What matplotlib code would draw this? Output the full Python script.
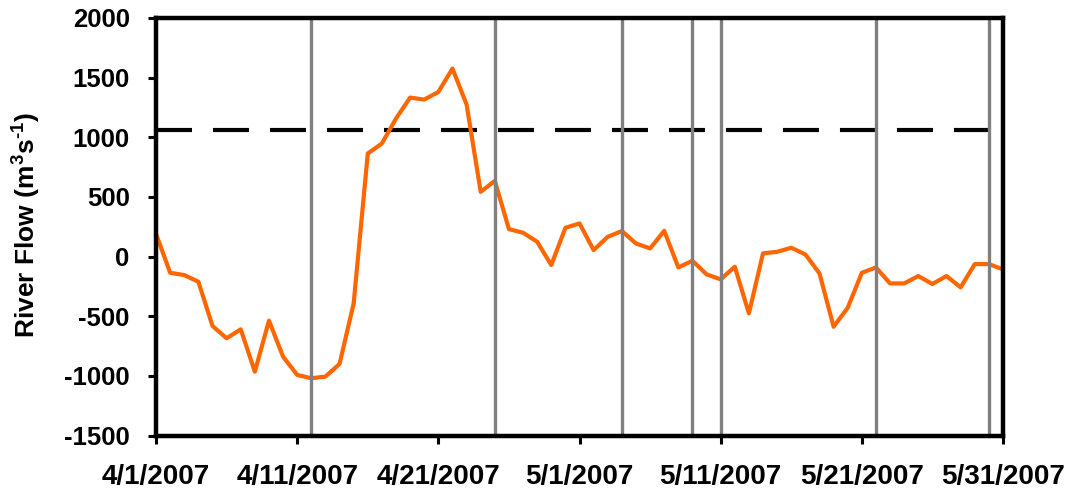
import numpy as np
import pandas as pd
import matplotlib
matplotlib.use("Agg")
import matplotlib.pyplot as plt

plt.rcParams['font.family'] = ['Liberation Sans', 'DejaVu Sans']
plt.rcParams['font.weight'] = 'bold'
plt.rcParams['axes.unicode_minus'] = False
plt.rcParams['mathtext.fontset'] = 'custom'
plt.rcParams['mathtext.rm'] = 'Liberation Sans:bold'
plt.rcParams['mathtext.bf'] = 'Liberation Sans:bold'
plt.rcParams['mathtext.it'] = 'Liberation Sans:bold'

# daily river flow, 4/1/2007 .. 5/31/2007
dates = pd.date_range("2007-04-01", "2007-05-31", freq="D")
flow = [190, -136, -155, -211, -582, -685, -610, -965, -537, -839,
        -992, -1020, -1006, -900, -392, 864, 948, 1157, 1333, 1316,
        1380, 1576, 1275, 543, 635, 230, 200, 124, -71, 241,
        278, 54, 166, 214, 110, 68, 216, -91, -35, -149,
        -191, -85, -476, 27, 40, 74, 18, -141, -588, -429,
        -136, -91, -225, -225, -163, -230, -163, -258, -63, -63,
        -107]

threshold = 1065
threshold_span = ["2007-04-01", "2007-05-30"]
event_dates = ["2007-04-12", "2007-04-25", "2007-05-04", "2007-05-09",
               "2007-05-11", "2007-05-22", "2007-05-30"]

tick_dates = pd.date_range("2007-04-01", "2007-05-31", freq="10D")
tick_labels = ["4/1/2007", "4/11/2007", "4/21/2007", "5/1/2007",
               "5/11/2007", "5/21/2007", "5/31/2007"]
yticks = [-1500, -1000, -500, 0, 500, 1000, 1500, 2000]

fig = plt.figure(figsize=(10.71, 4.93), dpi=100)
ax = fig.add_axes([0.1457, 0.1166, 0.7908, 0.8469])

ax.plot(pd.to_datetime(threshold_span), [threshold, threshold], color="black",
        linewidth=3, dashes=(36 / 1.389 / 3, 21 / 1.389 / 3), zorder=2)
ax.plot(dates, flow, color="#FF6600", linewidth=3, zorder=3)
for d in event_dates:
    ax.axvline(pd.Timestamp(d), color="#808080", linewidth=2.4, zorder=4)

ax.set_xlim(dates[0], dates[-1])
ax.set_ylim(-1500, 2000)
ax.set_yticks(yticks)
ax.set_xticks(tick_dates)
ax.set_xticklabels(tick_labels)

for s in ax.spines.values():
    s.set_linewidth(3.2)
    s.set_color("black")
    s.set_zorder(5)
ax.tick_params(axis='both', direction='out', length=6, width=2.2)
ax.tick_params(axis='y', pad=13, labelsize=18.5)
ax.tick_params(axis='x', pad=14.5, labelsize=20)

fig.text(0.025, 0.543, r"River Flow (m$^{3}$s$^{\text{-}1}$)", rotation=90,
         ha="center", va="center", fontsize=19, fontweight="bold")

fig.savefig("out.png", dpi=100)
